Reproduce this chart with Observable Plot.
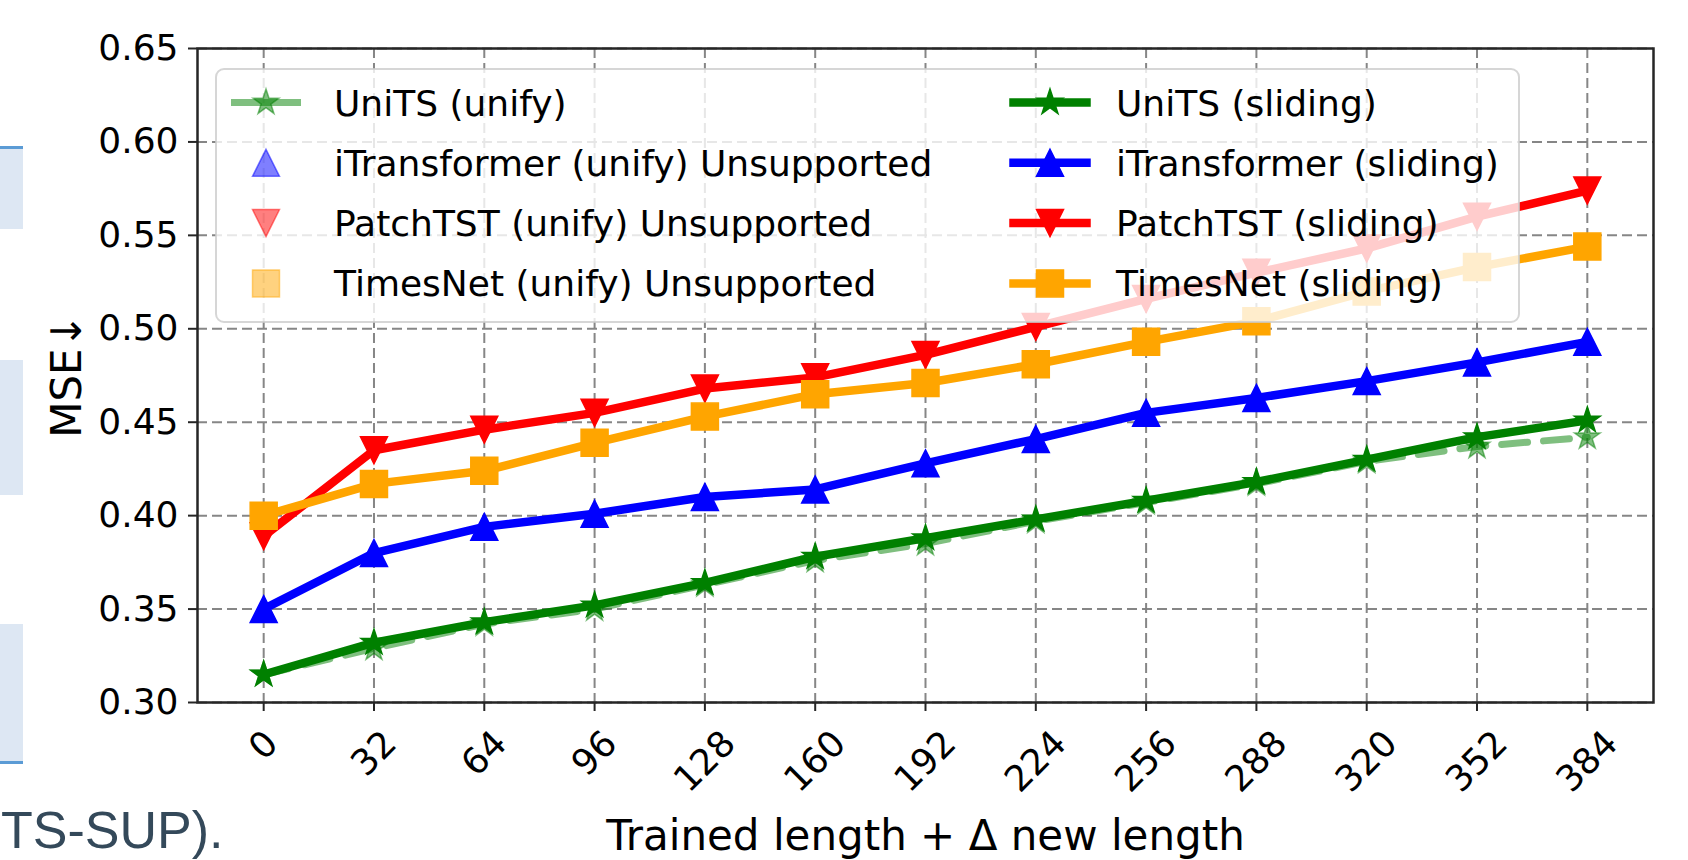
<!DOCTYPE html>
<html>
<head>
<meta charset="utf-8">
<script src="https://cdn.jsdelivr.net/npm/d3@7"></script>
<script src="https://cdn.jsdelivr.net/npm/@observablehq/plot@0.6"></script>
<style>
  html, body { margin: 0; padding: 0; background: #fff; }
  #wrap { position: relative; width: 1688px; height: 860px; overflow: hidden; background: #fff; }
  #chart { position: absolute; left: 0; top: 0; }
  .box { position: absolute; left: 0; width: 23px; background: #dde7f3; }
  #cap { position: absolute; left: 1px; top: 810px; font-family: "Liberation Sans", Arial, sans-serif;
         font-size: 52px; line-height: 40px; height: 40px; color: #34495a; white-space: nowrap; }
</style>
</head>
<body>
<div id="wrap">
  <div id="chart"></div>
  <div class="box" style="top:146px;height:80px;border-top:3px solid #5b9bd5;"></div>
  <div class="box" style="top:360px;height:135px;"></div>
  <div class="box" style="top:624px;height:137px;border-bottom:3px solid #5b9bd5;"></div>
  <div id="cap">TS-SUP).</div>
</div>
<script>
// ---------------- data ----------------
const lengths = [0, 32, 64, 96, 128, 160, 192, 224, 256, 288, 320, 352, 384];
const yTicks = [0.30, 0.35, 0.40, 0.45, 0.50, 0.55, 0.60, 0.65];

const unitsUnify   = [0.315, 0.329, 0.342, 0.350, 0.363, 0.376, 0.385, 0.397, 0.407, 0.417, 0.429, 0.437, 0.442];
const unitsSliding = [0.315, 0.332, 0.343, 0.352, 0.364, 0.378, 0.388, 0.398, 0.408, 0.418, 0.430, 0.442, 0.451];
const itransSliding = [0.350, 0.380, 0.394, 0.401, 0.410, 0.414, 0.428, 0.441, 0.455, 0.463, 0.472, 0.482, 0.493];
const patchSliding  = [0.389, 0.435, 0.446, 0.455, 0.468, 0.474, 0.486, 0.501, 0.516, 0.530, 0.543, 0.560, 0.574];
const timesSliding  = [0.400, 0.417, 0.424, 0.439, 0.453, 0.465, 0.471, 0.481, 0.493, 0.504, 0.520, 0.533, 0.544];

const legendUnify = ["UniTS (unify)", "iTransformer (unify) Unsupported", "PatchTST (unify) Unsupported", "TimesNet (unify) Unsupported"];
const legendSliding = ["UniTS (sliding)", "iTransformer (sliding)", "PatchTST (sliding)", "TimesNet (sliding)"];
const seriesColors = ["green", "blue", "red", "orange"];

const xLabel = "Trained length + \u0394 new length";
const yLabel = "MSE\u2193";

// ---------------- marker shapes (matplotlib-like) ----------------
const symStar = {draw(c, size) {
  const R = Math.sqrt(size) / 2, r = R * 0.381966;
  for (let i = 0; i < 10; i++) {
    const a = -Math.PI / 2 + i * Math.PI / 5, rad = i % 2 ? r : R;
    const x = rad * Math.cos(a), y = rad * Math.sin(a);
    if (i) c.lineTo(x, y); else c.moveTo(x, y);
  }
  c.closePath();
}};
const symTriUp = {draw(c, size) { const s = Math.sqrt(size) / 2; c.moveTo(0, -s); c.lineTo(s, s); c.lineTo(-s, s); c.closePath(); }};
const symTriDown = {draw(c, size) { const s = Math.sqrt(size) / 2; c.moveTo(0, s); c.lineTo(s, -s); c.lineTo(-s, -s); c.closePath(); }};
const symSquare = {draw(c, size) { const s = Math.sqrt(size) / 2; c.moveTo(-s, -s); c.lineTo(s, -s); c.lineTo(s, s); c.lineTo(-s, s); c.closePath(); }};
const seriesSymbols = [symStar, symTriUp, symTriDown, symSquare];

const MS = 27;                         // marker size in px
const R_DOT = MS / Math.sqrt(Math.PI); // Plot: size = PI r^2
const LW = 8.5;

const rows = vals => lengths.map((x, i) => ({x, y: vals[i]}));

const W = 1688, H = 860;
const mL = 197, mR = 35, mT = 48, mB = 158;

const gridStyle = {stroke: "#808080", strokeOpacity: 0.95, strokeWidth: 2, strokeDasharray: "10,5"};

function seriesMarks(vals, color, sym, opts = {}) {
  const data = rows(vals);
  const alpha = opts.alpha ?? 1;
  return [
    Plot.line(data, {x: "x", y: "y", stroke: color, strokeOpacity: alpha, strokeWidth: opts.lw ?? LW,
      strokeDasharray: opts.dash, strokeLinejoin: "round"}),
    Plot.dot(data, {x: "x", y: "y", symbol: sym, r: R_DOT, fill: color, fillOpacity: alpha,
      stroke: color, strokeOpacity: alpha, strokeWidth: 1.5, strokeLinejoin: "miter"})
  ];
}

const tickLabelMarks = lengths.map(t => {
  const n = String(t).length;
  const bbox = (n * 0.636 * 36 + 42) * Math.SQRT1_2;
  return Plot.text([t], {x: d => d, text: d => String(d), frameAnchor: "bottom", rotate: -45,
    dy: 20 + bbox / 2, fontSize: 36, textAnchor: "middle", lineAnchor: "middle", fill: "black"});
});

const chart = Plot.plot({
  width: W, height: H,
  marginLeft: mL, marginRight: mR, marginTop: mT, marginBottom: mB,
  style: {fontFamily: "DejaVu Sans", fontSize: "36px", background: "white", color: "black"},
  x: {domain: [-19.2, 403.2], label: null},
  y: {domain: [0.30, 0.65], label: null},
  marks: [
    Plot.gridX(lengths, gridStyle),
    Plot.gridY(yTicks, gridStyle),
    ...seriesMarks(unitsUnify, "green", symStar, {alpha: 0.5, lw: 7, dash: "26,16"}),
    ...seriesMarks(unitsSliding, "green", symStar),
    ...seriesMarks(itransSliding, "blue", symTriUp),
    ...seriesMarks(patchSliding, "red", symTriDown),
    ...seriesMarks(timesSliding, "orange", symSquare),
    Plot.frame({stroke: "#262626", strokeWidth: 2.5}),
    Plot.axisY({ticks: yTicks, tickFormat: d3.format(".2f"), tickSize: 9, tickPadding: 10,
      fontSize: 36, label: null, stroke: "#262626", strokeWidth: 2, fill: "black"}),
    Plot.axisX({ticks: lengths, tickFormat: () => "", tickSize: 9, label: null, stroke: "#262626", strokeWidth: 2}),
    ...tickLabelMarks,
    Plot.text([yLabel], {text: d => d, frameAnchor: "left", dx: -129.5, rotate: -90, fontSize: 42,
      textAnchor: "middle", lineAnchor: "middle", fill: "black"}),
    Plot.text([xLabel], {text: d => d, frameAnchor: "bottom", dy: 134.5, fontSize: 42,
      textAnchor: "middle", lineAnchor: "middle", fill: "black"})
  ]
});
document.getElementById("chart").appendChild(chart);

// ---------------- legend (matplotlib-style, 2 columns) ----------------
const svg = d3.select(chart);
const leg = svg.append("g").attr("font-family", "DejaVu Sans").attr("font-size", 36).attr("text-anchor", "start");
const box = {x: mL + 19, y: mT + 21, w: 1303, h: 253};
leg.append("rect").attr("x", box.x).attr("y", box.y).attr("width", box.w).attr("height", box.h)
  .attr("rx", 8).attr("fill", "white").attr("fill-opacity", 0.8)
  .attr("stroke", "#cccccc").attr("stroke-opacity", 0.8).attr("stroke-width", 2);

const rowY = i => box.y + 33.5 + i * 60.3;
const cols = [
  {labels: legendUnify, x0: box.x + 15, x1: box.x + 85, mx: box.x + 50, tx: box.x + 118, alpha: 0.5, sliding: false},
  {labels: legendSliding, x0: box.x + 797.5, x1: box.x + 870.5, mx: box.x + 834, tx: box.x + 900, alpha: 1, sliding: true}
];
cols.forEach(col => {
  col.labels.forEach((lab, i) => {
    const y = rowY(i), color = seriesColors[i];
    const hasLine = col.sliding || i === 0;
    if (hasLine) {
      leg.append("line").attr("x1", col.x0).attr("x2", col.x1).attr("y1", y).attr("y2", y)
        .attr("stroke", color).attr("stroke-opacity", col.alpha)
        .attr("stroke-width", col.sliding ? LW : 7)
        .attr("stroke-linecap", col.sliding ? "square" : "butt");
    }
    leg.append("path").attr("d", d3.symbol(seriesSymbols[i], MS * MS)())
      .attr("transform", `translate(${col.mx},${y})`)
      .attr("fill", color).attr("fill-opacity", col.alpha)
      .attr("stroke", color).attr("stroke-opacity", col.alpha).attr("stroke-width", 1.5);
    leg.append("text").attr("x", col.tx).attr("y", y + 13).attr("text-anchor", "start")
      .attr("fill", "black").text(lab);
  });
});
</script>
</body>
</html>
